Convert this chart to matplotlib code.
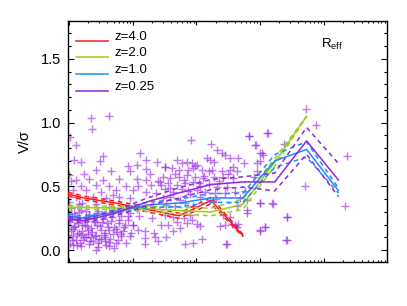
import matplotlib
matplotlib.use('Agg')
import numpy as np
import matplotlib.pyplot as plt

plt.rcParams['font.family'] = ['Liberation Sans', 'DejaVu Sans']

# bins in log10(M)
lbins = [7.73, 8.23, 8.73, 9.23, 9.73, 10.23, 10.73, 11.23, 11.73, 12.23]

# median V/sigma per redshift, and half width of the dashed band
red_v   = [0.47, 0.41, 0.37, 0.32, 0.27, 0.39, 0.115]
red_e   = [0.015, 0.015, 0.015, 0.02, 0.02, 0.025, 0.01]
green_v = [0.345, 0.335, 0.33, 0.325, 0.31, 0.30, 0.36, 0.69, 1.05]
green_e = [0.012, 0.012, 0.015, 0.02, 0.025, 0.03, 0.04, 0.03, 0.0]
blue_v  = [0.29, 0.25, 0.30, 0.355, 0.37, 0.41, 0.41, 0.70, 0.79, 0.467]
blue_e  = [0.015, 0.015, 0.015, 0.02, 0.03, 0.035, 0.035, 0.05, 0.06, 0.02]
purp_v  = [0.27, 0.23, 0.29, 0.38, 0.45, 0.515, 0.535, 0.535, 0.857, 0.55]
purp_e  = [0.015, 0.015, 0.02, 0.03, 0.04, 0.04, 0.04, 0.07, 0.105, 0.13]

# individual galaxies (log10 M, V/sigma)
gal_lm = [8.34, 8.62, 8.36, 8.02, 8.11, 8.54, 9.11, 8.08, 8.19, 8.48, 9.21, 9.38, 9.06, 8.92,
          9.50, 9.21, 8.24, 8.42, 8.66, 8.95, 9.27, 8.00, 8.11, 8.32, 8.53, 8.79, 9.06, 9.21,
          9.40, 8.03, 8.19, 8.42, 8.63, 8.90, 9.08, 9.29, 9.45, 8.06, 8.27, 8.50, 8.74, 9.00,
          9.21, 9.37, 8.69, 8.11, 8.37, 8.58, 8.79, 8.95, 8.00, 8.21, 8.42, 8.63, 8.84, 9.06,
          9.27,
          7.98, 8.08, 8.19, 8.32, 8.45, 8.58, 8.71, 8.82, 8.95,
          8.00, 8.13, 8.27, 8.40, 8.53, 8.66, 8.79, 8.92,
          7.98, 8.08, 8.21, 8.34, 8.48, 8.61, 8.74, 8.87, 9.00,
          8.03, 8.16, 8.29, 8.42, 8.56, 8.69, 8.82, 8.98,
          7.98, 8.11, 8.24, 8.37, 8.50, 8.63, 8.77, 8.90,
          8.06, 8.19, 8.32, 8.45, 8.58, 8.71, 9.08, 9.19, 9.34, 9.20, 9.40, 8.42, 8.63,
          7.99, 8.01, 8.04, 8.06, 8.09, 8.12, 8.14, 8.17, 8.20, 8.23, 8.26, 8.28, 8.31, 8.33,
          8.36, 8.39, 8.41, 8.44, 8.47, 8.50, 8.55, 8.60, 8.65, 8.70, 8.78, 8.85, 8.92, 9.00,
          9.10, 9.30, 9.45, 9.20, 9.35,
          7.99, 8.02, 8.05, 8.07, 8.10, 8.13, 8.15, 8.18, 8.22, 8.25, 8.29, 8.35, 8.38, 8.46,
          8.52, 8.57, 8.62, 8.68, 8.73, 8.81, 8.88, 8.96, 8.03, 8.15, 8.26, 8.44, 8.56, 8.75,
          10.83, 11.12, 9.91, 10.23, 10.93, 10.32, 10.40, 10.45, 11.00, 11.05, 9.69, 9.77,
          9.85, 9.93, 10.01, 10.16, 10.22, 10.27, 10.53, 10.66, 10.74, 10.95,
          9.51, 9.61, 9.72, 9.87, 9.95, 10.08, 10.24, 10.40, 10.53, 10.63, 10.90,
          9.48, 9.59, 9.72, 9.85, 9.98, 10.11, 10.27, 10.42, 10.58,
          9.43, 9.56, 9.69, 9.82, 9.95, 10.06, 10.19, 10.32, 10.48,
          9.51, 9.64, 9.77, 9.87, 10.01, 10.14, 10.29, 10.45, 10.61, 10.77,
          9.48, 9.59, 9.74, 10.06, 10.22, 10.69, 10.79,
          9.53, 9.67, 9.82, 9.95, 10.79, 10.63,
          9.51, 9.64, 9.80, 9.90, 10.79, 10.42,
          9.69, 9.85, 9.93, 9.56, 10.01, 10.06, 10.37, 10.45, 10.56, 10.63, 11.08, 11.00,
          9.74, 9.53, 9.64, 10.08, 9.82, 9.95, 10.48, 11.42, 11.42, 11.18, 11.00, 10.95,
          9.66, 9.80, 9.98, 10.12, 10.20, 10.35, 10.50, 9.58, 9.90, 10.04, 10.30, 10.57,
          11.72, 11.88, 10.83, 11.11, 10.92, 11.38, 11.03, 11.00, 12.37, 11.71, 12.33, 11.00,
          11.20, 11.42, 11.07, 11.00, 11.40, 10.47, 10.61, 10.66, 10.53]
gal_vs = [1.04, 1.05, 0.95, 0.886, 0.826, 0.74, 0.76, 0.71, 0.69, 0.70, 0.71, 0.69, 0.67, 0.66,
          0.65, 0.64, 0.60, 0.63, 0.62, 0.62, 0.60, 0.59, 0.55, 0.56, 0.55, 0.56, 0.56, 0.55,
          0.54, 0.54, 0.50, 0.51, 0.50, 0.50, 0.50, 0.51, 0.51, 0.47, 0.47, 0.46, 0.47, 0.47,
          0.46, 0.45, 0.43, 0.42, 0.42, 0.41, 0.42, 0.41, 0.38, 0.37, 0.36, 0.34, 0.33, 0.32,
          0.32,
          0.304, 0.291, 0.317, 0.278, 0.304, 0.285, 0.317, 0.270, 0.291,
          0.251, 0.238, 0.259, 0.225, 0.244, 0.233, 0.212, 0.238,
          0.199, 0.186, 0.199, 0.173, 0.191, 0.181, 0.165, 0.186, 0.199,
          0.147, 0.134, 0.155, 0.121, 0.139, 0.129, 0.113, 0.134,
          0.095, 0.082, 0.103, 0.069, 0.087, 0.061, 0.077, 0.056,
          0.043, 0.030, 0.050, 0.024, 0.043, 0.016, 0.160, 0.095, 0.134, 0.048, 0.069, 0.003, 0.030,
          0.12, 0.22, 0.08, 0.17, 0.27, 0.13, 0.21, 0.06, 0.15, 0.24, 0.10, 0.19, 0.28, 0.07,
          0.14, 0.23, 0.11, 0.20, 0.09, 0.16, 0.12, 0.21, 0.09, 0.18, 0.24, 0.15, 0.27, 0.20,
          0.27, 0.25, 0.20, 0.15, 0.10,
          0.17, 0.05, 0.26, 0.11, 0.19, 0.04, 0.30, 0.12, 0.08, 0.20, 0.13, 0.10, 0.25, 0.06,
          0.22, 0.10, 0.16, 0.26, 0.06, 0.13, 0.20, 0.11, 0.33, 0.36, 0.31, 0.29, 0.07, 0.14,
          0.896, 0.922, 0.865, 0.831, 0.826, 0.786, 0.760, 0.747, 0.760, 0.747, 0.708, 0.682,
          0.695, 0.682, 0.669, 0.721, 0.708, 0.695, 0.721, 0.721, 0.682, 0.617,
          0.656, 0.643, 0.630, 0.630, 0.643, 0.630, 0.630, 0.624, 0.630, 0.617, 0.577,
          0.577, 0.564, 0.577, 0.591, 0.572, 0.564, 0.577, 0.572, 0.564,
          0.538, 0.525, 0.512, 0.525, 0.538, 0.504, 0.520, 0.499, 0.494,
          0.478, 0.460, 0.478, 0.468, 0.473, 0.460, 0.447, 0.452, 0.460, 0.468,
          0.408, 0.421, 0.395, 0.421, 0.395, 0.408, 0.395,
          0.356, 0.343, 0.369, 0.348, 0.316, 0.343,
          0.277, 0.264, 0.251, 0.277, 0.290, 0.277,
          0.225, 0.212, 0.238, 0.199, 0.207, 0.191, 0.191, 0.199, 0.207, 0.186, 0.181, 0.160,
          0.173, 0.107, 0.147, 0.086, 0.047, 0.055, 0.050, 0.081, 0.264, 0.369, 0.369, 0.682,
          0.60, 0.55, 0.66, 0.58, 0.62, 0.54, 0.60, 0.49, 0.44, 0.53, 0.40, 0.65,
          1.105, 0.98, 0.896, 0.922, 0.825, 0.83, 0.765, 0.70, 0.74, 0.50, 0.347, 0.37,
          0.363, 0.264, 0.185, 0.154, 0.081, 0.05, 0.199, 0.207, 0.264]

c_red, c_green, c_blue, c_purp = '#ff1a1a', '#9acd1a', '#1a8cff', '#9426d9'

fig = plt.figure(figsize=(4.07, 3.06), dpi=100)
ax = fig.add_axes([0.1665, 0.143, 0.784, 0.790])

ax.plot(10**np.array(gal_lm), gal_vs, '+', color='#9a30e6', alpha=0.65, ms=5.5, mew=1.0, zorder=1)

series = [(red_v, red_e, c_red), (green_v, green_e, c_green),
          (blue_v, blue_e, c_blue), (purp_v, purp_e, c_purp)]
for v, e, c in series:
    m = 10**np.array(lbins[:len(v)])
    v = np.array(v)
    e = np.array(e)
    ax.plot(m, v, '-', color=c, lw=1.1, zorder=3)
    ax.plot(m, v + e, '--', color=c, lw=1.1, dashes=(3, 2.5), zorder=3)
    ax.plot(m, v - e, '--', color=c, lw=1.1, dashes=(3, 2.5), zorder=3)

ax.set_xscale('log')
ax.set_xlim(10**7.98, 10**12.99)
ax.set_ylim(-0.094, 1.8)
ax.set_yticks([0.0, 0.5, 1.0, 1.5])
ax.set_yticklabels(['0.0', '0.5', '1.0', '1.5'])
ax.yaxis.set_minor_locator(matplotlib.ticker.MultipleLocator(0.1))
ax.xaxis.set_major_formatter(matplotlib.ticker.NullFormatter())
ax.xaxis.set_minor_formatter(matplotlib.ticker.NullFormatter())
ax.tick_params(which='both', direction='in', top=True, right=True, width=0.8)
ax.tick_params(axis='y', which='major', length=4.5, labelsize=10.5, pad=5)
ax.tick_params(axis='y', which='minor', length=2.5)
ax.tick_params(axis='x', which='major', length=3)
ax.tick_params(axis='x', which='minor', length=1.6)
for s in ax.spines.values():
    s.set_linewidth(1.0)

ax.set_ylabel('V/\u03c3', fontsize=10.5, labelpad=0)
ax.yaxis.set_label_coords(-0.112, 0.5)

# legend drawn by hand
labels = ['z=4.0', 'z=2.0', 'z=1.0', 'z=0.25']
cols = [c_red, c_green, c_blue, c_purp]
for i, (lab, c) in enumerate(zip(labels, cols)):
    yl = 0.917 - 0.0695 * i
    ax.plot([0.026, 0.126], [yl, yl], color=c, lw=1.1, transform=ax.transAxes)
    ax.text(0.148, yl + 0.016, lab, fontsize=9.5, va='center', ha='left', transform=ax.transAxes)

ax.text(0.793, 0.899, r'R$_{\mathregular{eff}}$', fontsize=9.5, va='center', ha='left',
        transform=ax.transAxes)

fig.savefig('out.png', dpi=100)
